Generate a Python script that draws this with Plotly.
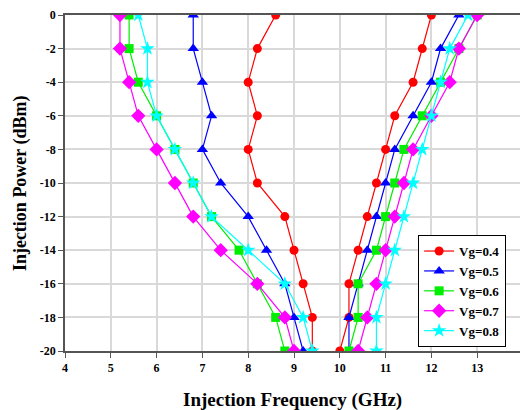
import plotly.graph_objects as go

power = [0, -2, -4, -6, -8, -10, -12, -14, -16, -18, -20]

# left (lower) branch frequencies, GHz, top to bottom
vg04_left = [8.6, 8.2, 8.0, 8.2, 8.0, 8.2, 8.8, 9.0, 9.2, 9.4, 9.4]
vg05_left = [6.8, 6.8, 7.0, 7.2, 7.0, 7.4, 8.0, 8.4, 8.8, 9.0, 9.2]
vg06_left = [5.4, 5.4, 5.6, 6.0, 6.4, 6.8, 7.2, 7.8, 8.2, 8.6, 8.8]
vg07_left = [5.2, 5.2, 5.4, 5.6, 6.0, 6.4, 6.8, 7.4, 8.2, 8.8, 9.0]
vg08_left = [5.6, 5.8, 5.8, 6.0, 6.4, 6.8, 7.2, 8.0, 8.8, 9.2, 9.4]

# right (upper) branch frequencies, GHz, top to bottom
vg04_right = [12.0, 11.8, 11.6, 11.2, 11.0, 10.8, 10.6, 10.4, 10.2, 10.2, 10.0]
vg05_right = [12.6, 12.2, 12.0, 11.6, 11.2, 11.0, 10.8, 10.6, 10.4, 10.2, 10.2]
vg06_right = [13.0, 12.6, 12.2, 11.8, 11.4, 11.2, 11.0, 10.8, 10.4, 10.4, 10.2]
vg07_right = [13.0, 12.6, 12.4, 12.0, 11.6, 11.4, 11.2, 11.0, 10.8, 10.6, 10.4]
vg08_right = [12.8, 12.4, 12.2, 12.0, 11.8, 11.6, 11.4, 11.2, 11.0, 10.8, 10.8]

names = ["Vg=0.4", "Vg=0.5", "Vg=0.6", "Vg=0.7", "Vg=0.8"]
lefts = [vg04_left, vg05_left, vg06_left, vg07_left, vg08_left]
rights = [vg04_right, vg05_right, vg06_right, vg07_right, vg08_right]
colors = ["#FF0000", "#0000FF", "#00EE00", "#FF00FF", "#00FFFF"]
symbols = ["circle", "triangle-up", "square", "diamond", "star"]
sizes = [9, 10, 9, 11, 11]

x_ticks = [4, 5, 6, 7, 8, 9, 10, 11, 12, 13, 14]
y_ticks = [0, -2, -4, -6, -8, -10, -12, -14, -16, -18, -20]
y_ticktext = [str(v) for v in y_ticks]

font_family = "Liberation Serif, Times New Roman, serif"

fig = go.Figure()
for name, l, r, c, s, sz in zip(names, lefts, rights, colors, symbols, sizes):
    xs = list(l) + [None] + list(r)
    ys = list(power) + [None] + list(power)
    fig.add_trace(go.Scatter(
        x=xs, y=ys, name=name, mode="lines+markers",
        connectgaps=False,
        line=dict(color=c, width=1.2),
        marker=dict(color=c, symbol=s, size=sz, line=dict(width=0)),
    ))

# page body has an 8px default margin, so the figure is 8px smaller
fig.update_layout(
    width=520, height=402,
    margin=dict(l=57, r=5, t=7, b=59, autoexpand=False),
    paper_bgcolor="white", plot_bgcolor="white",
    font=dict(family=font_family, color="black"),
    showlegend=True,
    legend=dict(
        x=0.771, y=0.345, xanchor="left", yanchor="top",
        bgcolor="white", bordercolor="black", borderwidth=1,
        font=dict(family=font_family, size=13, color="black", weight="bold"),
        tracegroupgap=0, itemwidth=30,
    ),
    xaxis=dict(
        range=[4, 14], tickvals=x_ticks, ticktext=[str(v) for v in x_ticks],
        showgrid=True, gridcolor="#D9D9D9", gridwidth=1.5,
        showline=True, linecolor="#555555", linewidth=1.5, mirror=True,
        ticks="outside", ticklen=5, tickcolor="#555555",
        tickfont=dict(family=font_family, size=12, weight="bold"),
        zeroline=False, automargin=False,
    ),
    yaxis=dict(
        range=[-20, 0], tickvals=y_ticks, ticktext=y_ticktext,
        showgrid=True, gridcolor="#D9D9D9", gridwidth=1.5,
        showline=True, linecolor="#555555", linewidth=1.5, mirror=True,
        ticks="outside", ticklen=5, tickcolor="#555555",
        tickfont=dict(family=font_family, size=12, weight="bold"),
        zeroline=False, automargin=False,
    ),
    annotations=[
        dict(text="<b>Injection Frequency (GHz)</b>", xref="paper", yref="paper",
             x=0.496, y=-0.146, xanchor="center", yanchor="middle", showarrow=False,
             font=dict(family=font_family, size=19, color="black")),
        dict(text="<b>Injection Power (dBm)</b>", xref="paper", yref="paper",
             x=-0.098, y=0.5, xanchor="center", yanchor="middle", showarrow=False,
             textangle=-90,
             font=dict(family=font_family, size=18, color="black")),
    ],
)

fig.write_html("out.html")
